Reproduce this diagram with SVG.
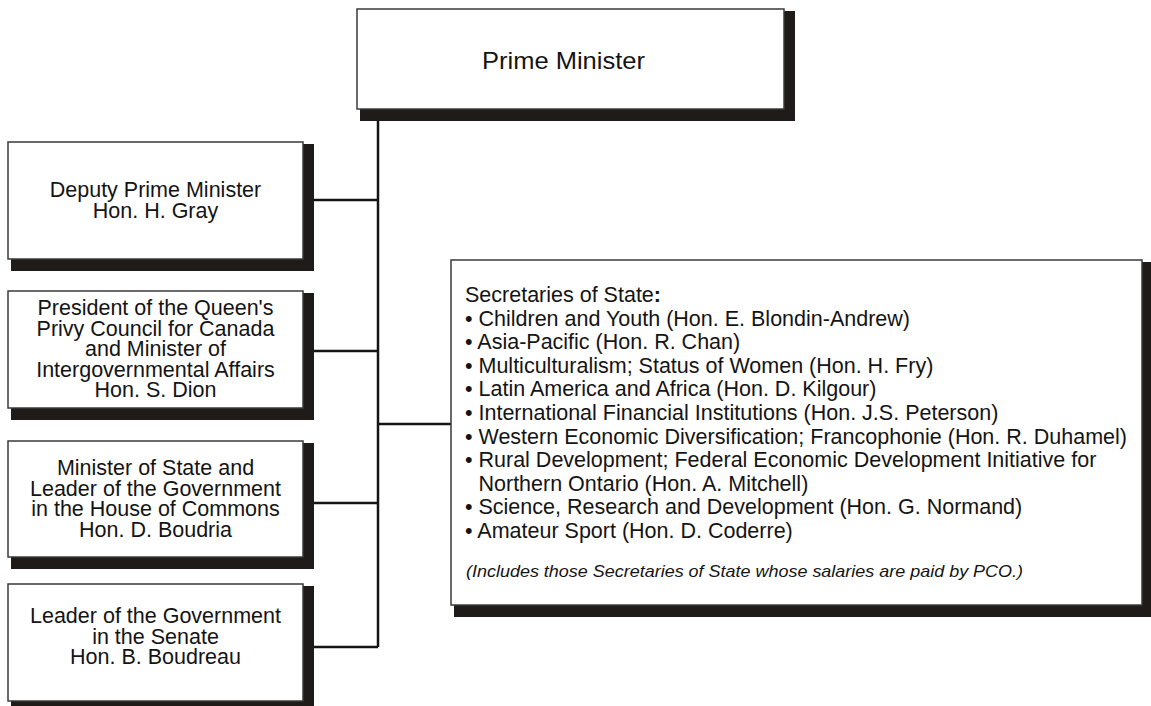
<svg xmlns="http://www.w3.org/2000/svg" width="1151" height="706" viewBox="0 0 1151 706">
<style>
.box{fill:#ffffff;stroke:#3a3a3a;stroke-width:1.5}
.shadow{fill:#1e1b19}
.t{font-family:"Liberation Sans",Arial,Helvetica,sans-serif;font-size:21.5px;fill:#141414}
.c{text-anchor:middle}
.it{font-family:"Liberation Sans",Arial,Helvetica,sans-serif;font-size:17px;font-style:italic;fill:#141414}
.conn{stroke:#141414;stroke-width:2.5;fill:none}
</style>
<rect width="1151" height="706" fill="#ffffff"/>
<g id="connectors">
<path class="conn" d="M378 121 V647 M314 200 H378 M314 351 H378 M314 503 H378 M314 647 H378 M378 424 H451"/>
</g>
<g id="prime-minister">
<rect class="shadow" x="360" y="11" width="435" height="110"/>
<rect class="box" x="357" y="9" width="427" height="100"/>
<text class="t c" x="563.5" y="69" style="font-size:24px" textLength="163" lengthAdjust="spacingAndGlyphs">Prime Minister</text>
</g>
<g id="deputy-pm">
<rect class="shadow" x="11" y="144" width="303" height="127"/>
<rect class="box" x="8" y="142" width="295" height="117"/>
<text class="t c" x="155.5" y="197">Deputy Prime Minister<tspan x="155.5" dy="20.5">Hon. H. Gray</tspan></text>
</g>
<g id="president-privy-council">
<rect class="shadow" x="11" y="293" width="303" height="127"/>
<rect class="box" x="8" y="291" width="295" height="117"/>
<text class="t c" x="155.5" y="315">President of the Queen's<tspan x="155.5" dy="20.5">Privy Council for Canada</tspan><tspan x="155.5" dy="20.5">and Minister of</tspan><tspan x="155.5" dy="20.5">Intergovernmental Affairs</tspan><tspan x="155.5" dy="20.5">Hon. S. Dion</tspan></text>
</g>
<g id="leader-commons">
<rect class="shadow" x="11" y="443" width="303" height="126"/>
<rect class="box" x="8" y="441" width="295" height="116"/>
<text class="t c" x="155.5" y="475">Minister of State and<tspan x="155.5" dy="20.5">Leader of the Government</tspan><tspan x="155.5" dy="20.5">in the House of Commons</tspan><tspan x="155.5" dy="20.5">Hon. D. Boudria</tspan></text>
</g>
<g id="leader-senate">
<rect class="shadow" x="11" y="586" width="303" height="127"/>
<rect class="box" x="8" y="584" width="295" height="117"/>
<text class="t c" x="155.5" y="623">Leader of the Government<tspan x="155.5" dy="20.5">in the Senate</tspan><tspan x="155.5" dy="20.5">Hon. B. Boudreau</tspan></text>
</g>
<g id="secretaries-of-state">
<rect class="shadow" x="454" y="262" width="699" height="355"/>
<rect class="box" x="451" y="260" width="691" height="345"/>
<text class="t" x="465" y="302">Secretaries of State<tspan font-weight="bold">:</tspan><tspan x="465" dy="23.6">• Children and Youth (Hon. E. Blondin-Andrew)</tspan><tspan x="465" dy="23.6">• Asia-Pacific (Hon. R. Chan)</tspan><tspan x="465" dy="23.6">• Multiculturalism; Status of Women (Hon. H. Fry)</tspan><tspan x="465" dy="23.6">• Latin America and Africa (Hon. D. Kilgour)</tspan><tspan x="465" dy="23.6">• International Financial Institutions (Hon. J.S. Peterson)</tspan><tspan x="465" dy="23.6">• Western Economic Diversification; Francophonie (Hon. R. Duhamel)</tspan><tspan x="465" dy="23.6">• Rural Development; Federal Economic Development Initiative for</tspan><tspan x="478.5" dy="23.6">Northern Ontario (Hon. A. Mitchell)</tspan><tspan x="465" dy="23.6">• Science, Research and Development (Hon. G. Normand)</tspan><tspan x="465" dy="23.6">• Amateur Sport (Hon. D. Coderre)</tspan></text>
<text class="it" x="466" y="577" textLength="557" lengthAdjust="spacingAndGlyphs">(Includes those Secretaries of State whose salaries are paid by PCO.)</text>
</g>
</svg>
